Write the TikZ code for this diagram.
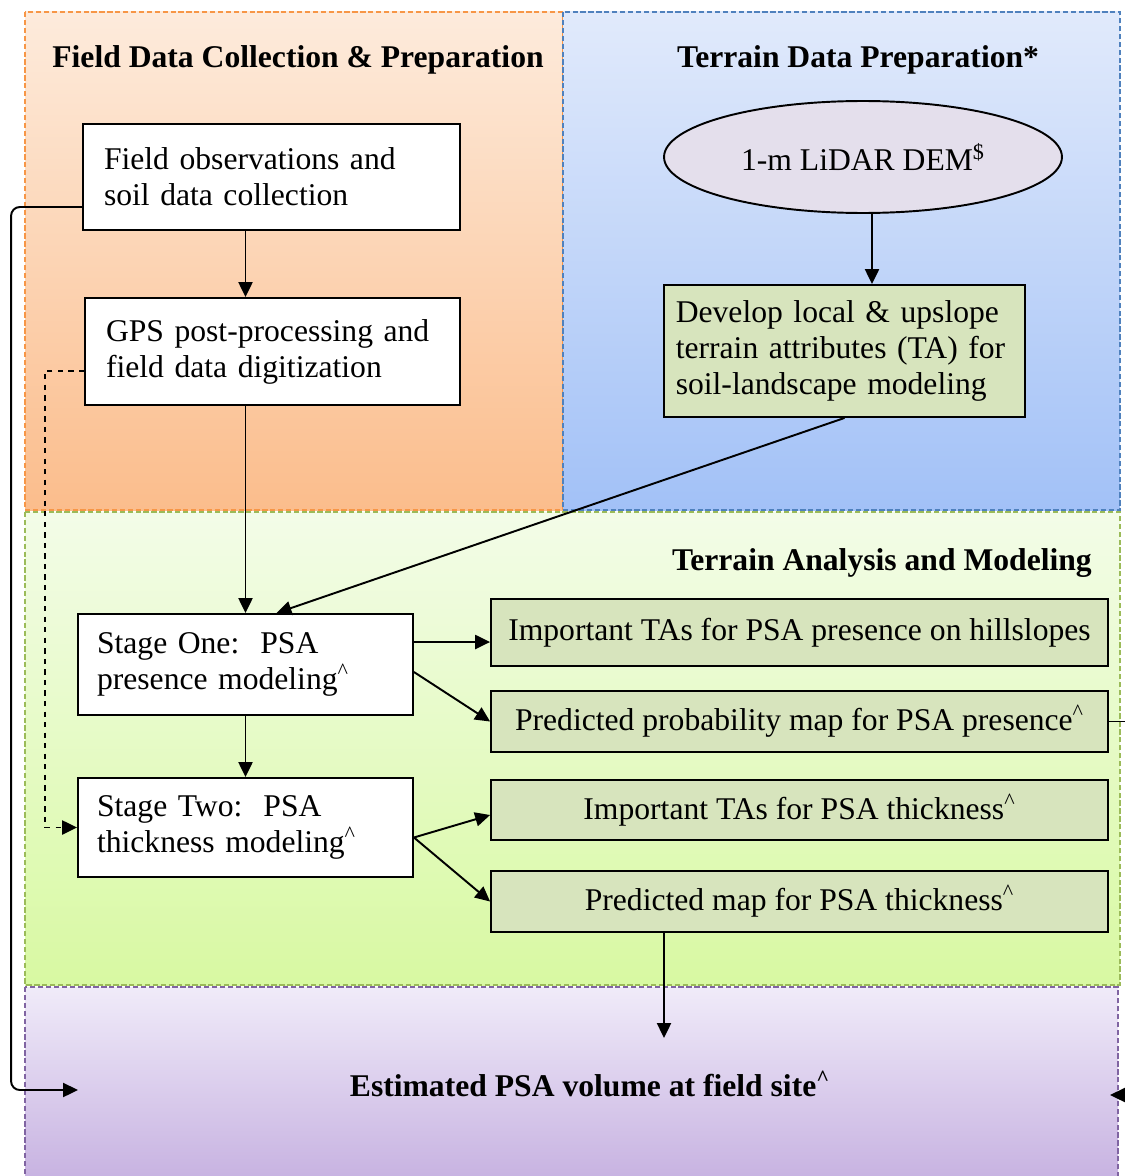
\documentclass[tikz,border=0pt]{standalone}
\usepackage{fontspec}
\setmainfont{Liberation Serif}
\usetikzlibrary{arrows.meta,shapes.geometric}

\definecolor{fieldtop}{HTML}{FDEBDC}
\definecolor{fieldbot}{HTML}{FBBD8C}
\definecolor{fieldline}{HTML}{F79646}
\definecolor{terraintop}{HTML}{E1EAFB}
\definecolor{terrainbot}{HTML}{A2C1F7}
\definecolor{terrainline}{HTML}{4F81BD}
\definecolor{analysistop}{HTML}{F3FCE8}
\definecolor{analysisbot}{HTML}{D8F9A2}
\definecolor{analysisline}{HTML}{9BBB59}
\definecolor{volumetop}{HTML}{F0EBF9}
\definecolor{volumebot}{HTML}{C7B2E1}
\definecolor{volumeline}{HTML}{8064A2}
\definecolor{boxgreen}{HTML}{D7E4BD}
\definecolor{lidarfill}{HTML}{E4DFEC}

\begin{document}
\begin{tikzpicture}[
        x=0.02cm, y=-0.02cm,
        txt/.style={font=\fontsize{18}{20.5}\selectfont},
        title/.style={font=\fontsize{18}{20.5}\selectfont\bfseries},
        panel/.style={dash pattern=on 3pt off 1.5pt, line width=0.8pt},
        whitebox/.style={rectangle, draw, line width=1.1pt, fill=white, inner sep=0pt, align=left, txt},
        greenbox/.style={rectangle, draw, line width=1.1pt, fill=boxgreen, inner sep=0pt, txt},
        wide/.style={greenbox, minimum width=12.34cm, align=center},
        conn/.style={line width=1.1pt, -{Triangle[length=8.5pt,width=8pt]}},
    ]
    \useasboundingbox (0,0) rectangle (1125,1176);

    % ===== Panels =====
    \shade[top color=fieldtop, bottom color=fieldbot] (25,12) rectangle (563,510);
    \draw[panel, fieldline] (25,12) rectangle (563,510);
    \shade[top color=terraintop, bottom color=terrainbot] (563,12) rectangle (1120,510);
    \draw[panel, terrainline] (563,12) rectangle (1120,510);
    \shade[top color=analysistop, bottom color=analysisbot] (25,512) rectangle (1120,985);
    \draw[panel, analysisline] (25,512) rectangle (1120,985);
    \shade[top color=volumetop, bottom color=volumebot] (25,987) rectangle (1118,1180);
    \draw[panel, volumeline] (25,987) rectangle (1118,1180);

    % ===== Panel titles =====
    \node[title] (fieldtitle) at (298,60) {Field Data Collection \& Preparation};
    \node[title] (terraintitle) at (858,60) {Terrain Data Preparation*};
    \node[title, anchor=east] (analysistitle) at (1098,563) {Terrain Analysis and Modeling};
    \node[title] (volumetitle) at (590,1084) {Estimated PSA volume at field site\textsuperscript{\textasciicircum}};

    % ===== Field data =====
    \node[whitebox, minimum width=7.54cm, minimum height=2.12cm, text width=6.7cm] (fieldobs) at (271.5,177)
        {Field observations and\\soil data collection};
    \node[whitebox, minimum width=7.5cm, minimum height=2.14cm, text width=6.66cm] (gps) at (272.5,351.5)
        {GPS post-processing and\\field data digitization};

    % ===== Terrain data =====
    \node[ellipse, draw, line width=1.1pt, fill=lidarfill, minimum width=7.96cm, minimum height=2.24cm, inner sep=0pt, txt] (lidar) at (863,157)
        {1-m LiDAR DEM\textsuperscript{\$}};
    \node[greenbox, align=left, minimum width=7.22cm, minimum height=2.64cm, text width=6.75cm] (develop) at (844.5,351)
        {Develop local \& upslope\\terrain attributes (TA) for\\soil-landscape modeling};

    % ===== Modeling =====
    \node[whitebox, minimum width=6.7cm, minimum height=2.02cm, text width=5.94cm] (stage1) at (245.5,664.5)
        {Stage One:\ \ PSA\\presence modeling\textsuperscript{\textasciicircum}};
    \node[whitebox, minimum width=6.7cm, minimum height=1.98cm, text width=5.94cm] (stage2) at (245.5,827.5)
        {Stage Two:\ \ PSA\\thickness modeling\textsuperscript{\textasciicircum}};

    \node[wide, minimum height=1.34cm] (imp1) at (799.5,632.5) {Important TAs for PSA presence on hillslopes};
    \node[wide, minimum height=1.22cm] (pred1) at (799.5,721.5) {Predicted probability map for PSA presence\textsuperscript{\textasciicircum}};
    \node[wide, minimum height=1.2cm] (imp2) at (799.5,810) {Important TAs for PSA thickness\textsuperscript{\textasciicircum}};
    \node[wide, minimum height=1.22cm] (pred2) at (799.5,901.5) {Predicted map for PSA thickness\textsuperscript{\textasciicircum}};

    % free ends inside the volume panel
    \coordinate (volL) at (78,1090);
    \coordinate (volR) at (1110,1095);
    \coordinate (volT) at (664,1038);

    % ===== Connectors =====
    \draw[conn] (fieldobs.south -| stage1.north) -- (gps.north -| stage1.north);
    \draw[conn] (gps.south -| stage1.north) -- (stage1.north);
    \draw[conn] ([xshift=0.18cm]lidar.south) -- ([xshift=0.18cm]lidar.south |- develop.north);
    \draw[conn] (develop.south) -- ([xshift=0.62cm]stage1.north);
    \draw[conn] ([yshift=0.45cm]stage1.east) -- ([yshift=0.45cm]stage1.east -| imp1.west);
    \draw[conn] ([yshift=-0.15cm]stage1.east) -- (pred1.west);
    \draw[conn] (stage1.south) -- (stage2.north);
    \draw[conn] ([yshift=-0.2cm]stage2.east) -- ([yshift=-0.1cm]imp2.west);
    \draw[conn] ([yshift=-0.2cm]stage2.east) -- (pred2.west);
    \draw[conn] (pred2.south -| volT) -- (volT);
    \draw[conn, rounded corners=5pt] ([yshift=-0.6cm]fieldobs.west) -- ++(-71,0) |- (volL);
    \draw[conn, dashed] ([yshift=-0.39cm]gps.west) -- ++(-39,0) |- (stage2.west);
    \draw[conn] (pred1.east) -- ++(40,0) |- (volR);

\end{tikzpicture}
\end{document}
